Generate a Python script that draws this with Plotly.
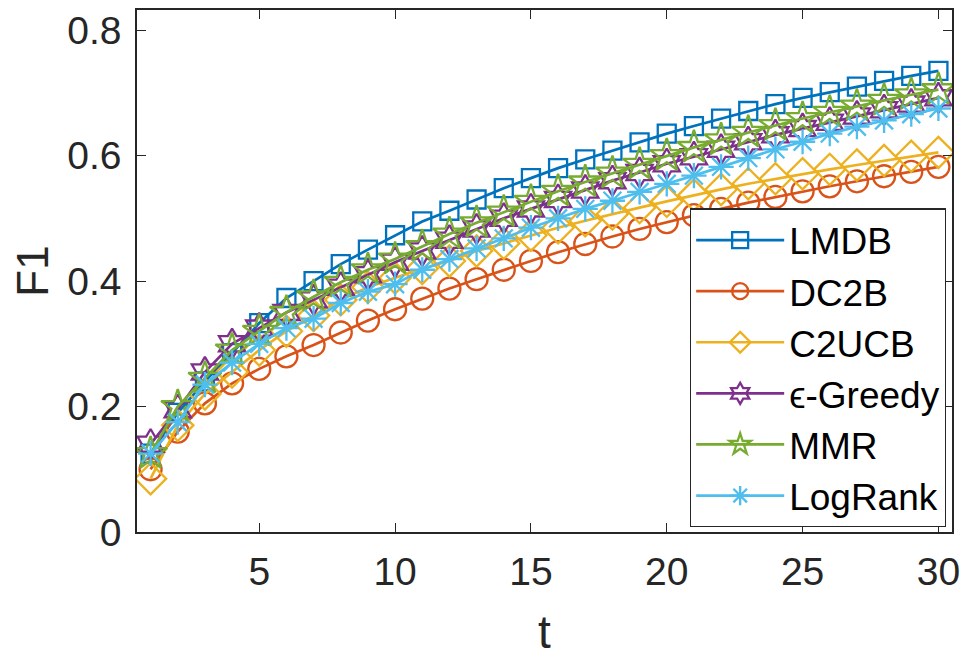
import plotly.graph_objects as go

# rounds t = 1..30
t = list(range(1, 31))

lmdb = [0.125, 0.19, 0.24, 0.285, 0.333, 0.373, 0.40, 0.427, 0.45, 0.473,
        0.495, 0.512, 0.53, 0.548, 0.564, 0.58, 0.594, 0.608, 0.621, 0.635,
        0.647, 0.659, 0.671, 0.682, 0.692, 0.701, 0.71, 0.719, 0.727, 0.735]
dc2b = [0.10, 0.16, 0.205, 0.237, 0.26, 0.28, 0.298, 0.318, 0.337, 0.355,
        0.372, 0.388, 0.403, 0.418, 0.432, 0.446, 0.459, 0.471, 0.483, 0.494,
        0.505, 0.515, 0.525, 0.534, 0.543, 0.551, 0.559, 0.567, 0.574, 0.582]
c2ucb = [0.085, 0.17, 0.22, 0.255, 0.29, 0.32, 0.345, 0.37, 0.39, 0.405,
         0.42, 0.432, 0.448, 0.46, 0.473, 0.485, 0.496, 0.507, 0.517, 0.527,
         0.537, 0.546, 0.555, 0.563, 0.571, 0.578, 0.585, 0.592, 0.599, 0.605]
egreedy = [0.14, 0.195, 0.255, 0.30, 0.325, 0.35, 0.37, 0.39, 0.41, 0.43,
           0.448, 0.465, 0.483, 0.50, 0.515, 0.53, 0.545, 0.56, 0.573, 0.587,
           0.598, 0.61, 0.622, 0.633, 0.643, 0.653, 0.663, 0.673, 0.682, 0.692]
mmr = [0.125, 0.20, 0.245, 0.29, 0.32, 0.35, 0.375, 0.398, 0.418, 0.435,
       0.455, 0.475, 0.493, 0.51, 0.527, 0.543, 0.558, 0.572, 0.586, 0.60,
       0.613, 0.625, 0.637, 0.648, 0.659, 0.669, 0.679, 0.688, 0.697, 0.705]
lograng = [0.125, 0.175, 0.235, 0.27, 0.30, 0.325, 0.34, 0.365, 0.383, 0.395,
           0.418, 0.435, 0.452, 0.468, 0.485, 0.50, 0.515, 0.528, 0.542, 0.555,
           0.568, 0.582, 0.596, 0.61, 0.622, 0.635, 0.646, 0.656, 0.666, 0.675]

names = ['LMDB', 'DC2B', 'C2UCB', 'ϵ-Greedy', 'MMR', 'LogRank']
series = [lmdb, dc2b, c2ucb, egreedy, mmr, lograng]
colors = ['#0072BD', '#D95319', '#EDB120', '#7E2F8E', '#77AC30', '#4DBEEE']
symbols = ['square-open', 'circle-open', 'diamond-open',
           'hexagram-open', 'star-open', 'asterisk-open']
sizes = [18, 22, 24, 23, 25, 21]

fig = go.Figure()
for name, y, c, s, sz in zip(names, series, colors, symbols, sizes):
    fig.add_trace(go.Scatter(
        x=t, y=y, name=name, mode='lines+markers',
        line=dict(color=c, width=2.7),
        marker=dict(symbol=s, size=sz, color=c, line=dict(color=c, width=2.3))
    ))

axis_style = dict(
    showline=True, linecolor='#262626', linewidth=1.5, mirror='ticks',
    ticks='inside', ticklen=9, tickcolor='#262626', tickwidth=1.2,
    showgrid=False, zeroline=False, automargin=False,
    ticklabeloverflow='allow',
    tickfont=dict(family='Liberation Sans', size=39, color='#262626'),
)

# page body has an 8px margin, so the figure is a little smaller than the window
fig.update_layout(
    width=962, height=651,
    margin=dict(l=129, r=18, t=2, b=127),
    paper_bgcolor='white', plot_bgcolor='white',
    font=dict(family='Liberation Sans', color='#262626'),
    xaxis=dict(range=[0.5, 30.5], tickvals=[5, 10, 15, 20, 25, 30],
               ticklabelstandoff=4,
               title=dict(text='t', font=dict(size=46), standoff=24),
               **axis_style),
    yaxis=dict(range=[0, 0.832], tickvals=[0, 0.2, 0.4, 0.6, 0.8],
               ticktext=['0', '0.2', '0.4', '0.6', '0.8'],
               ticklabelstandoff=6,
               title=dict(text='F1', font=dict(size=44), standoff=25),
               **axis_style),
    legend=dict(x=0.9926, y=0.009, xanchor='right', yanchor='bottom',
                bgcolor='white', bordercolor='#262626', borderwidth=1.2,
                font=dict(family='Liberation Sans', size=37, color='black'),
                itemwidth=88, tracegroupgap=0),
    showlegend=True,
)

fig.write_html('out.html')
